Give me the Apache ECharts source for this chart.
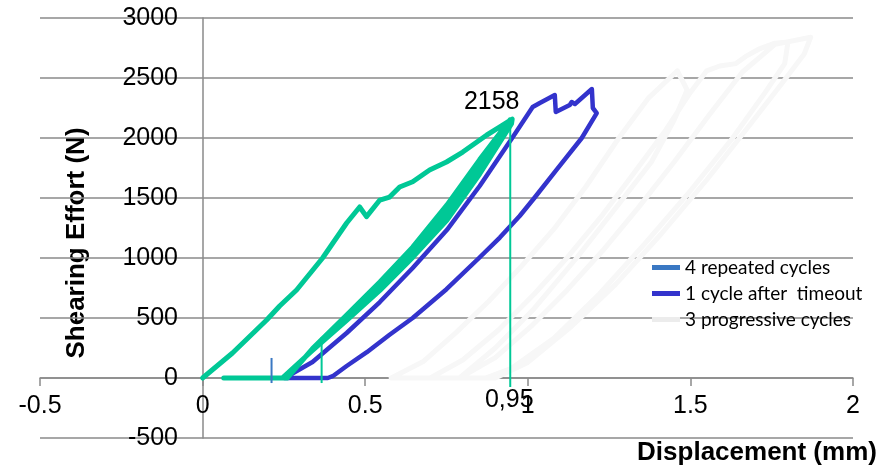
<!DOCTYPE html>
<html>
<head>
<meta charset="utf-8">
<script src="https://cdn.jsdelivr.net/npm/echarts/dist/echarts.min.js"></script>
<style>html,body{margin:0;padding:0;background:#fff}#c{width:893px;height:468px}</style>
</head>
<body>
<div id="c"></div>
<script>
// ---- data (displacement mm, shearing effort N) ----
const xTicks = [-0.5, 0, 0.5, 1, 1.5, 2];
const yTicks = [-500, 0, 500, 1000, 1500, 2000, 2500, 3000];

const greenLoad = [[0,0],[0.092,208],[0.197,483],[0.237,600],[0.289,733],[0.369,1000],[0.443,1292],[0.483,1425],[0.504,1345],[0.545,1483],[0.575,1508],[0.606,1592],[0.646,1635],[0.698,1733],[0.75,1800],[0.8,1883],[0.874,2025],[0.914,2092],[0.952,2158]];
const greenUnloadA = [[0.95,2120],[0.852,1700],[0.751,1315],[0.646,1005],[0.545,730],[0.443,480],[0.338,230],[0.245,0],[0.065,0],[0.25,0]];
const greenReloadB = [[0.26,0],[0.338,245],[0.443,525],[0.545,800],[0.646,1090],[0.751,1440],[0.852,1820],[0.945,2150]];
const greenUnloadM = [[0.948,2140],[0.852,1757],[0.751,1375],[0.646,1045],[0.545,762],[0.443,500],[0.338,235],[0.252,0]];

const blueLoad = [[0.252,0],[0.338,133],[0.443,375],[0.545,633],[0.646,917],[0.751,1233],[0.852,1600],[0.954,2008],[1.015,2258],[1.037,2292],[1.083,2358],[1.086,2217],[1.129,2275],[1.135,2300],[1.145,2283],[1.197,2408],[1.2,2250],[1.212,2208]];
const blueUnload = [[1.166,2000],[1.09,1740],[1.02,1500],[0.975,1350],[0.914,1170],[0.85,1000],[0.75,740],[0.646,500],[0.575,360],[0.505,215],[0.443,100],[0.40,15],[0.385,0],[0.252,0]];

const gray1 = [[0.58,0],[0.68,140],[0.78,380],[0.88,640],[0.98,930],[1.08,1240],[1.18,1600],[1.28,2000],[1.37,2330],[1.46,2560],[1.49,2400],[1.45,2150],[1.38,1800],[1.28,1450],[1.15,1000],[1.02,580],[0.90,250],[0.79,0],[0.58,0]];
const gray2 = [[0.70,0],[0.80,150],[0.91,400],[1.02,700],[1.12,1000],[1.23,1360],[1.33,1720],[1.42,2050],[1.50,2380],[1.55,2560],[1.59,2600],[1.64,2620],[1.67,2680],[1.71,2740],[1.76,2790],[1.80,2800],[1.79,2620],[1.73,2380],[1.63,2000],[1.50,1560],[1.36,1120],[1.22,700],[1.08,330],[0.95,80],[0.87,0],[0.70,0]];
const gray3 = [[0.79,0],[0.90,170],[1.01,430],[1.12,730],[1.23,1060],[1.34,1420],[1.45,1800],[1.56,2200],[1.66,2550],[1.76,2780],[1.87,2840],[1.85,2700],[1.78,2450],[1.68,2100],[1.55,1650],[1.41,1200],[1.27,780],[1.13,420],[1.00,130],[0.90,0],[0.79,0]];

const marker095 = [[0.946,-75],[0.946,2150]];
const greenTick = [[0.366,-42],[0.366,342]];
const blueTick = [[0.212,-42],[0.212,167]];

const textLabels = [[0.889,2300,'2158'],[0.943,-183,'0,95']];

const legendNames = ['4 repeated cycles', '1 cycle after  timeout', '3 progressive cycles'];

// ---- chart ----
const GREEN = '#00C896', BLUE = '#3333CC', TBLUE = '#3A78C3', LGRAY = '#f7f7f7', GRID = '#8a8a8a';
const FONT = "'Liberation Sans', Arial, sans-serif";

const greenAll = [].concat(greenLoad, greenUnloadA, greenReloadB, greenUnloadM, greenReloadB);
const blueAll = [].concat(blueLoad, blueUnload);
const grayAll = [].concat(gray1, [[null,null]], gray2, [[null,null]], gray3);

const axisTitles = [
  {type: 'text', x: 77, y: 243, rotation: Math.PI/2,
    style: {text: 'Shearing Effort (N)', font: "bold 26px " + FONT, fill: '#000', align: 'center', verticalAlign: 'middle'}},
  {type: 'text', x: 757, y: 453,
    style: {text: 'Displacement (mm)', font: "bold 26px " + FONT, fill: '#000', align: 'center', verticalAlign: 'middle'}}
];

const chart = echarts.init(document.getElementById('c'), null, {renderer:'canvas'});
chart.setOption({
  animation: false,
  backgroundColor: '#fff',
  grid: {left: 40, right: 40, top: 18, bottom: 30, containLabel: false, outerBoundsMode: 'none'},
  xAxis: {
    type: 'value', min: xTicks[0], max: xTicks[xTicks.length-1], interval: 0.5,
    position: 'bottom', offset: -60,
    axisLine: {onZero: false, lineStyle: {color: GRID, width: 1.5}},
    axisTick: {show: true, length: 8, lineStyle: {color: GRID, width: 1.5}},
    axisLabel: {margin: 16, color: '#000', fontSize: 25, fontFamily: FONT,
      formatter: v => String(v)},
    splitLine: {show: false}
  },
  yAxis: {
    type: 'value', min: yTicks[0], max: yTicks[yTicks.length-1], interval: 500,
    position: 'left', offset: -163,
    axisLine: {onZero: false, show: true, lineStyle: {color: GRID, width: 1.5}},
    axisTick: {show: false},
    axisLabel: {margin: 25, color: '#000', fontSize: 25, fontFamily: FONT,
      formatter: v => String(v)},
    splitLine: {show: true, lineStyle: {color: GRID, width: 1.5}}
  },
  legend: {
    orient: 'vertical', left: 647, top: 253, itemWidth: 28, itemHeight: 5, itemGap: 7,
    textStyle: {fontFamily: "Lato, 'Open Sans', sans-serif", fontSize: 19, lineHeight: 18, color: '#000'},
    data: [
      {name: legendNames[0], icon: 'rect', itemStyle: {color: TBLUE}},
      {name: legendNames[1], icon: 'rect', itemStyle: {color: BLUE}},
      {name: legendNames[2], icon: 'rect', itemStyle: {color: '#ececec'}}
    ]
  },
  graphic: axisTitles,
  series: [
    {name: legendNames[2], type: 'line', data: grayAll, showSymbol: false, symbol: 'none', connectNulls: false,
      lineStyle: {color: LGRAY, width: 5, cap: 'round', join: 'round'}, itemStyle: {color: LGRAY}, z: 2},
    {name: legendNames[1], type: 'line', data: blueAll, symbol: 'none',
      lineStyle: {color: BLUE, width: 4.5, cap: 'round', join: 'round'}, itemStyle: {color: BLUE}, z: 3},
    {name: 'green cycles', type: 'line', data: greenAll, symbol: 'none',
      lineStyle: {color: GREEN, width: 5, cap: 'round', join: 'round'}, itemStyle: {color: GREEN}, z: 4},
    {name: 'green marker', type: 'line', data: marker095, symbol: 'none',
      lineStyle: {color: GREEN, width: 2}, z: 5},
    {name: 'green tick', type: 'line', data: greenTick, symbol: 'none',
      lineStyle: {color: GREEN, width: 2}, z: 5},
    {name: legendNames[0], type: 'line', data: blueTick, symbol: 'none',
      lineStyle: {color: TBLUE, width: 2}, itemStyle: {color: TBLUE}, z: 5}
  ]
});

// value labels placed through the chart's own scales
const labelGraphics = textLabels.map(d => {
  const p = chart.convertToPixel({gridIndex: 0}, [d[0], d[1]]);
  return {type: 'text', x: p[0], y: p[1], z: 100,
    style: {text: d[2], font: "25px " + FONT, fill: '#000', align: 'center', verticalAlign: 'middle'}};
});
chart.setOption({graphic: axisTitles.concat(labelGraphics)});
</script>
</body>
</html>
